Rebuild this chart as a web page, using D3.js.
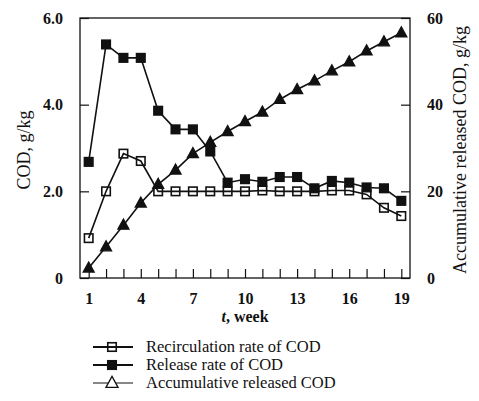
<!DOCTYPE html>
<html>
<head>
<meta charset="utf-8">
<script src="https://cdn.jsdelivr.net/npm/d3@7"></script>
<style>
  html, body { margin: 0; padding: 0; background: #fff; }
  svg text { font-family: "Liberation Serif", "Times New Roman", serif; fill: #111; }
  .tick text { font-weight: bold; font-size: 16px; }
  .axis path, .axis line { stroke: #111; }
</style>
</head>
<body>
<div id="chart"></div>
<script>
// COD over time: left axis = rates (g/kg), right axis = accumulative (g/kg)
const weeks = d3.range(1, 20);
const recirculation = [0.92, 2.0, 2.87, 2.7, 2.0, 2.0, 2.0, 2.0, 2.0, 2.0, 2.02, 2.0, 2.0, 2.0, 2.02, 2.02, 1.93, 1.62, 1.43];
const release = [2.68, 5.39, 5.08, 5.08, 3.86, 3.43, 3.43, 2.92, 2.2, 2.28, 2.22, 2.33, 2.33, 2.07, 2.24, 2.2, 2.09, 2.07, 1.78];
const accumulative = [2.3, 7.2, 12.2, 17.3, 21.6, 24.9, 28.7, 31.3, 33.8, 36.1, 38.3, 41.2, 43.5, 45.5, 47.8, 49.9, 52.4, 54.5, 56.6];
const xTickLabels = [1, 4, 7, 10, 13, 16, 19];
const yLeftTicks = [0, 2, 4, 6];
const yRightTicks = [0, 20, 40, 60];
const legendLabels = ["Recirculation rate of COD", "Release rate of COD", "Accumulative released COD"];

const W = 479, H = 401;
const m = { l: 80, r: 69, t: 18, b: 123 };
const svg = d3.select("#chart").append("svg").attr("width", W).attr("height", H);

const x = d3.scaleLinear().domain([0.5, 19.5]).range([m.l, W - m.r]);
const yL = d3.scaleLinear().domain([0, 6]).range([H - m.b, m.t]);
const yR = d3.scaleLinear().domain([0, 60]).range([H - m.b, m.t]);

// frame
svg.append("rect").attr("x", m.l).attr("y", m.t)
  .attr("width", W - m.l - m.r).attr("height", H - m.t - m.b)
  .attr("fill", "none").attr("stroke", "#111").attr("stroke-width", 1.3);

// bottom axis: tick every week, labels every 3rd
const xAxis = svg.append("g").attr("class", "axis").attr("transform", `translate(0,${H - m.b})`)
  .call(d3.axisBottom(x).tickValues(weeks).tickSizeInner(-9).tickSizeOuter(0).tickPadding(15)
    .tickFormat(d => xTickLabels.includes(d) ? d : ""));
xAxis.select(".domain").remove();

const lAxis = svg.append("g").attr("class", "axis").attr("transform", `translate(${m.l},0)`)
  .call(d3.axisLeft(yL).tickValues(yLeftTicks).tickSizeInner(-9).tickSizeOuter(0).tickPadding(17)
    .tickFormat(d => d === 0 ? "0" : d3.format(".1f")(d)));
lAxis.select(".domain").remove();

const rAxis = svg.append("g").attr("class", "axis").attr("transform", `translate(${W - m.r},0)`)
  .call(d3.axisRight(yR).tickValues(yRightTicks).tickSizeInner(-9).tickSizeOuter(0).tickPadding(17));
rAxis.select(".domain").remove();
svg.selectAll(".axis").attr("font-family", null).attr("font-size", null);
svg.selectAll(".axis .tick line").attr("stroke-width", 1.2);

// axis titles
svg.append("text").attr("transform", `translate(30,${(m.t + H - m.b) / 2 + 2}) rotate(-90)`)
  .attr("text-anchor", "middle").attr("font-size", 18).text("COD, g/kg");
svg.append("text").attr("transform", `translate(466,${(m.t + H - m.b) / 2 + 2}) rotate(-90)`)
  .attr("text-anchor", "middle").attr("font-size", 18)
  .text("Accumulative released COD, g/kg");
const xt = svg.append("text").attr("x", (m.l + W - m.r) / 2).attr("y", 322)
  .attr("text-anchor", "middle").attr("font-size", 16).attr("font-weight", "bold");
xt.append("tspan").attr("font-style", "italic").text("t");
xt.append("tspan").text(", week");

// lines
const series = [
  { vals: recirculation, y: yL, kind: "open" },
  { vals: release, y: yL, kind: "filled" },
  { vals: accumulative, y: yR, kind: "tri" }
];
const sq = 8.5;
const triPath = s => `M0,${-s * 0.6}L${s * 0.55},${s * 0.4}L${-s * 0.55},${s * 0.4}Z`;

series.forEach(s => {
  const pts = weeks.map((w, i) => ({ w, v: s.vals[i] }));
  svg.append("path").datum(pts)
    .attr("fill", "none").attr("stroke", "#111").attr("stroke-width", 1.6)
    .attr("d", d3.line().x(d => x(d.w)).y(d => s.y(d.v)));
  const g = svg.append("g").selectAll("g").data(pts).join("g")
    .attr("transform", d => `translate(${x(d.w)},${s.y(d.v)})`);
  drawMarker(g, s.kind, false);
});

function drawMarker(g, kind, legend) {
  if (kind === "tri") {
    const size = legend ? 11 : 10;
    g.append("path").attr("d", triPath(size))
      .attr("fill", legend ? "#fff" : "#111").attr("stroke", "#111").attr("stroke-width", 1.3);
  } else {
    g.append("rect").attr("x", -sq / 2).attr("y", -sq / 2).attr("width", sq).attr("height", sq)
      .attr("fill", kind === "filled" ? "#111" : "none")
      .attr("stroke", "#111").attr("stroke-width", 1.6);
  }
}

// legend
const kinds = ["open", "filled", "tri"];
const lg = svg.append("g");
legendLabels.forEach((lab, i) => {
  const yy = 347 + i * 18;
  lg.append("line").attr("x1", 93).attr("x2", 133).attr("y1", yy).attr("y2", yy)
    .attr("stroke", "#111").attr("stroke-width", i === 2 ? 1.2 : 1.8);
  drawMarker(lg.append("g").attr("transform", `translate(112,${yy})`), kinds[i], true);
  lg.append("text").attr("x", 146).attr("y", yy + 5).attr("font-size", 16.5).text(lab);
});
</script>
</body>
</html>
